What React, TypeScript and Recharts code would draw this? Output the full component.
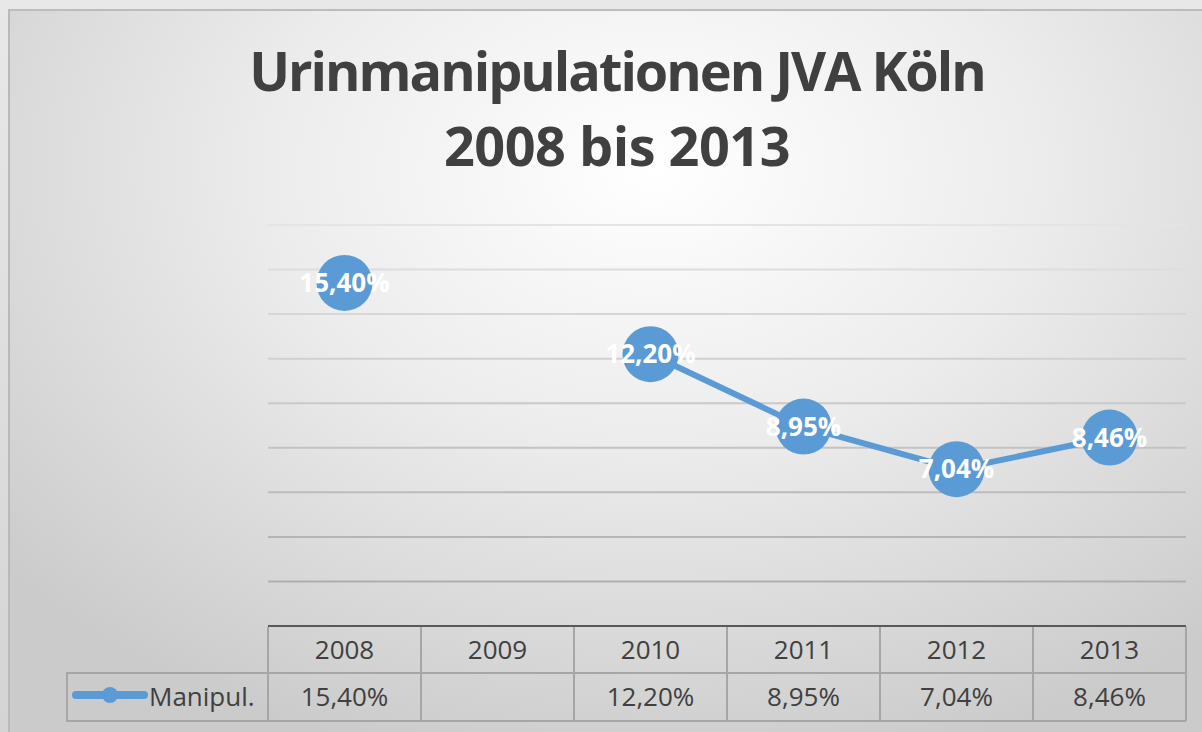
import { LineChart, Line, XAxis, YAxis, CartesianGrid, LabelList } from 'recharts';

const YEARS = ['2008', '2009', '2010', '2011', '2012', '2013'];
const MANIPUL: (number | null)[] = [15.4, null, 12.2, 8.95, 7.04, 8.46];
const Y_TICKS = [0, 2, 4, 6, 8, 10, 12, 14, 16, 18];
const SERIES_NAME = 'Manipul.';
const TITLE_1 = 'Urinmanipulationen JVA Köln';
const TITLE_2 = '2008 bis 2013';

const W = 1202;
const H = 732;
const MARGIN = { top: 225, right: 16, bottom: 11, left: 268 };
const PLOT_W = W - MARGIN.left - MARGIN.right;
const COL_W = PLOT_W / YEARS.length;
const HEAD_H = 47;
const ROW_H = 48;
const LEGEND_W = 201;

const BLUE = '#5b9bd5';
const TEXT = '#404040';
const BORDER = '#a6a6a6';
const FONT = '"Open Sans", sans-serif';

const data = YEARS.map((year, i) => ({ year, manipul: MANIPUL[i] }));

const fmt = (v: number | null | undefined) =>
  v == null ? '' : v.toFixed(2).replace('.', ',') + '%';

// Datentabelle unter dem Diagramm, eine Spalte pro Kategorie
const TableTick = (props: any) => {
  const { x, y, payload } = props;
  const i = payload.index;
  const left = x - COL_W / 2;
  const right = x + COL_W / 2;
  const bottom = y + HEAD_H + ROW_H;
  const last = i === YEARS.length - 1;
  return (
    <g>
      <line x1={left} y1={y + 1} x2={left} y2={bottom} stroke={BORDER} strokeWidth={2} />
      {last && <line x1={right} y1={y + 1} x2={right} y2={bottom} stroke={BORDER} strokeWidth={2} />}
      <line x1={left} y1={y + HEAD_H} x2={right} y2={y + HEAD_H} stroke={BORDER} strokeWidth={2} />
      <line x1={left} y1={bottom} x2={right} y2={bottom} stroke={BORDER} strokeWidth={2} />
      <text x={x} y={y + 33} textAnchor="middle" fill={TEXT} fontSize={26} fontFamily={FONT}>
        {payload.value}
      </text>
      <text x={x} y={y + HEAD_H + 33} textAnchor="middle" fill={TEXT} fontSize={26} fontFamily={FONT}>
        {fmt(MANIPUL[i])}
      </text>
      {i === 0 && (
        <g>
          <rect
            x={left - LEGEND_W}
            y={y + HEAD_H}
            width={LEGEND_W}
            height={ROW_H}
            fill="none"
            stroke={BORDER}
            strokeWidth={2}
          />
          <line
            x1={left - LEGEND_W + 9}
            y1={y + HEAD_H + 22}
            x2={left - LEGEND_W + 77}
            y2={y + HEAD_H + 22}
            stroke={BLUE}
            strokeWidth={8}
            strokeLinecap="round"
          />
          <circle cx={left - LEGEND_W + 43} cy={y + HEAD_H + 22} r={8} fill={BLUE} />
          <text x={left - LEGEND_W + 82} y={y + HEAD_H + 33} fill={TEXT} fontSize={26} fontFamily={FONT}>
            {SERIES_NAME}
          </text>
        </g>
      )}
    </g>
  );
};

const PointLabel = (props: any) => {
  const { x, y, value } = props;
  if (value == null) return null;
  return (
    <text
      x={x}
      y={y + 9}
      textAnchor="middle"
      fill="#ffffff"
      fontSize={26}
      fontWeight="bold"
      fontFamily={FONT}
    >
      {fmt(value)}
    </text>
  );
};

export default function App() {
  return (
    <div
      style={{
        position: 'absolute',
        left: 0,
        top: 0,
        width: W,
        height: H,
        overflow: 'hidden',
        background: 'linear-gradient(to bottom, #e8e8e8, #d4d4d4)',
      }}
    >
      <div
        style={{
          position: 'absolute',
          left: 8,
          top: 9,
          right: 0,
          bottom: 0,
          borderLeft: '2px solid #b9b9b9',
          borderTop: '2px solid #bcbcbc',
          background:
            'radial-gradient(ellipse 72% 85% at 54% 22%, #ffffff 0%, #ececec 45%, #cbcbcb 100%)',
        }}
      />
      <div
        style={{
          position: 'absolute',
          left: 0,
          top: 33,
          width: 1234,
          textAlign: 'center',
          fontFamily: FONT,
          fontWeight: 'bold',
          fontSize: 54,
          lineHeight: '75px',
          color: TEXT,
        }}
      >
        <div style={{ letterSpacing: -2 }}>{TITLE_1}</div>
        <div style={{ letterSpacing: -0.5 }}>{TITLE_2}</div>
      </div>
      <div style={{ position: 'absolute', left: 0, top: 0 }}>
        <LineChart width={W} height={H} data={data} margin={MARGIN}>
          <defs>
            <linearGradient id="gridGrad" gradientUnits="userSpaceOnUse" x1="0" y1="225" x2="0" y2="625">
              <stop offset="0%" stopColor="#e4e4e4" />
              <stop offset="100%" stopColor="#a8a8a8" />
            </linearGradient>
          </defs>
          <CartesianGrid vertical={false} stroke="url(#gridGrad)" strokeWidth={2} />
          <YAxis hide domain={[0, 18]} ticks={Y_TICKS} />
          <XAxis
            dataKey="year"
            height={HEAD_H + ROW_H}
            interval={0}
            tickLine={false}
            tickSize={0}
            tickMargin={0}
            axisLine={{ stroke: '#595959', strokeWidth: 2 }}
            padding={{ left: COL_W / 2, right: COL_W / 2 }}
            tick={<TableTick />}
          />
          <Line
            type="linear"
            dataKey="manipul"
            name={SERIES_NAME}
            stroke={BLUE}
            strokeWidth={6}
            dot={{ r: 28, fill: BLUE, stroke: 'none' }}
            activeDot={false}
            isAnimationActive={false}
          >
            <LabelList dataKey="manipul" content={<PointLabel />} />
          </Line>
        </LineChart>
      </div>
    </div>
  );
}
